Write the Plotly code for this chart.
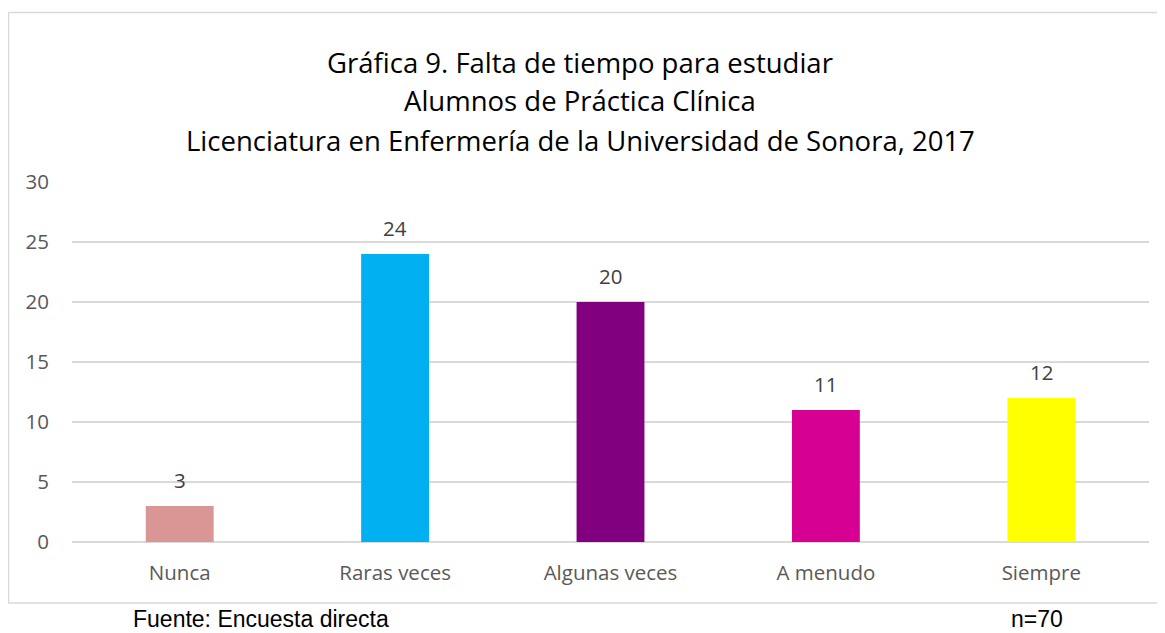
import plotly.graph_objects as go

categories = ["Nunca", "Raras veces", "Algunas veces", "A menudo", "Siempre"]
values = [3, 24, 20, 11, 12]
colors = ["#D99694", "#00B0F0", "#800080", "#D60093", "#FFFF00"]
title_lines = [
    "Gráfica 9. Falta de tiempo para estudiar",
    "Alumnos de Práctica Clínica",
    "Licenciatura en Enfermería de la Universidad de Sonora, 2017",
]
y_ticks = [0, 5, 10, 15, 20, 25, 30]

OFF = 8  # page body margin
W, H = 1165 - OFF, 633 - OFF
L = 72 - OFF
T = 182 - OFF
R = W - (1149 - OFF)
B = H - (542 - OFF)
pw, ph = W - L - R, H - T - B

def px_x(px):
    return (px - OFF - L) / pw

def px_y(py):
    return (H - B - (py - OFF)) / ph

fig = go.Figure(go.Bar(
    x=categories, y=values,
    marker=dict(color=colors, line=dict(width=0)),
    hoverinfo="x+y",
))

annotations = []
for c, v in zip(categories, values):
    annotations.append(dict(
        text=str(v), x=c, y=v, xref="x", yref="y",
        xanchor="center", yanchor="middle", yshift=26, showarrow=False,
        font=dict(family="Open Sans", size=20.5, color="#404040"),
    ))
for i, line in enumerate(title_lines):
    annotations.append(dict(
        text=line, xref="paper", yref="paper",
        x=px_x(580), y=px_y(62 + i * 39), xanchor="center", yanchor="middle",
        showarrow=False, font=dict(family="Open Sans", size=27.5, color="#000000"),
    ))
annotations.append(dict(
    text="Fuente: Encuesta directa", xref="paper", yref="paper",
    x=px_x(131), y=px_y(619), xanchor="left", yanchor="middle",
    showarrow=False, font=dict(family="Liberation Sans", size=23, color="#000000"),
))
annotations.append(dict(
    text="n=70", xref="paper", yref="paper",
    x=px_x(1009), y=px_y(619), xanchor="left", yanchor="middle",
    showarrow=False, font=dict(family="Liberation Sans", size=23, color="#000000"),
))

fig.update_layout(
    width=W, height=H,
    margin=dict(l=L, r=R, t=T, b=B),
    paper_bgcolor="white", plot_bgcolor="white",
    bargap=0.685,
    showlegend=False,
    annotations=annotations,
    shapes=[dict(
        type="rect", xref="paper", yref="paper",
        x0=px_x(8.5), x1=px_x(1160), y0=px_y(603), y1=px_y(12.5),
        line=dict(color="#D9D9D9", width=1.5), fillcolor="rgba(0,0,0,0)", layer="below",
    )],
    xaxis=dict(
        tickfont=dict(family="Open Sans", size=20.5, color="#595959"),
        showline=False, ticks="", showgrid=False, ticklabelstandoff=16,
    ),
    yaxis=dict(
        range=[0, 30], tickvals=y_ticks,
        tickfont=dict(family="Open Sans", size=20.5, color="#595959"),
        showgrid=True, gridcolor="#D9D9D9", gridwidth=1.5,
        zeroline=True, zerolinecolor="#D9D9D9", zerolinewidth=1.5,
        showline=False, ticks="", ticklabelstandoff=22,
    ),
)

fig.write_html("out.html")
